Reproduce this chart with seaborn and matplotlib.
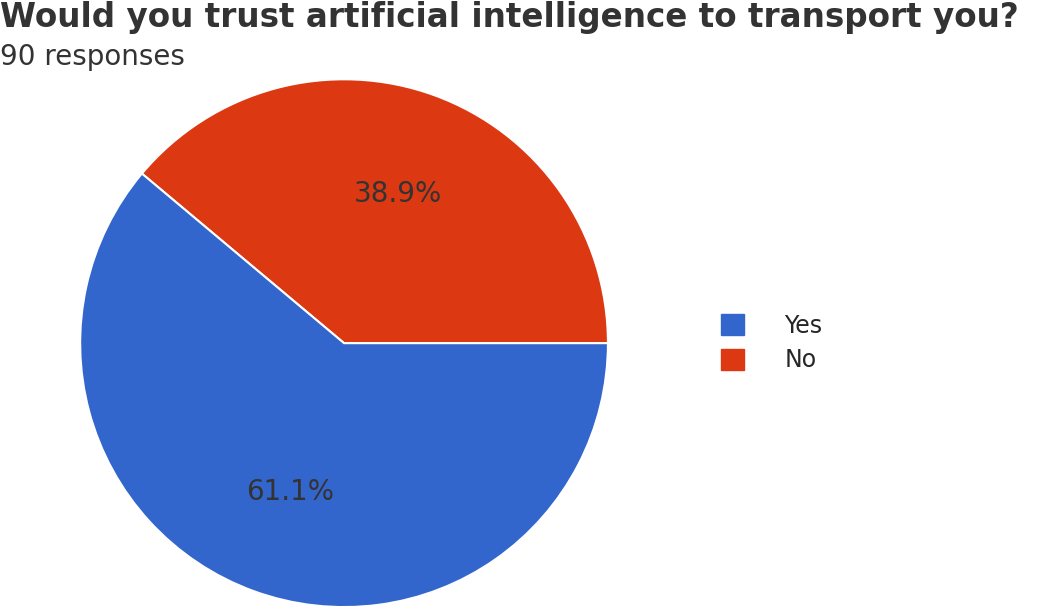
import matplotlib
matplotlib.use("Agg")
import matplotlib.pyplot as plt
import seaborn as sns
from matplotlib.patches import Patch

sns.set_theme(style="white")
plt.rcParams['font.family'] = ['DejaVu Sans']

# data
labels = ["Yes", "No"]
counts = [55, 35]
colors = ["#3366cc", "#dc3912"]

fig = plt.figure(figsize=(10.41, 6.09), dpi=100)
ax = fig.add_axes([0.077, 0.003, 0.507, 0.867])

# draw No first so it sits from 3 o'clock counterclockwise
wedges, texts, autotexts = ax.pie(
    counts[::-1], colors=colors[::-1], startangle=0, autopct='%1.1f%%',
    pctdistance=0.6, wedgeprops=dict(edgecolor='white', linewidth=1.5),
    textprops=dict(color='#333333', fontsize=20))
ax.set_xlim(-1.0, 1.0)
ax.set_ylim(-1.0, 1.0)
ax.set_aspect('equal')

handles = [Patch(color=c) for c in colors]
fig.legend(handles, labels, loc='center left', bbox_to_anchor=(0.672, 0.437),
           frameon=False, fontsize=17, handlelength=1.0, handleheight=1.0,
           labelspacing=0.45, handletextpad=1.7)

fig.text(0.0, 0.998, "Would you trust artificial intelligence to transport you?",
         fontsize=23.5, fontweight='bold', color='#333333', va='top', ha='left')
fig.text(0.0, 0.93, "90 responses", fontsize=20, color='#333333', va='top', ha='left')

fig.savefig("out.png", dpi=100)
